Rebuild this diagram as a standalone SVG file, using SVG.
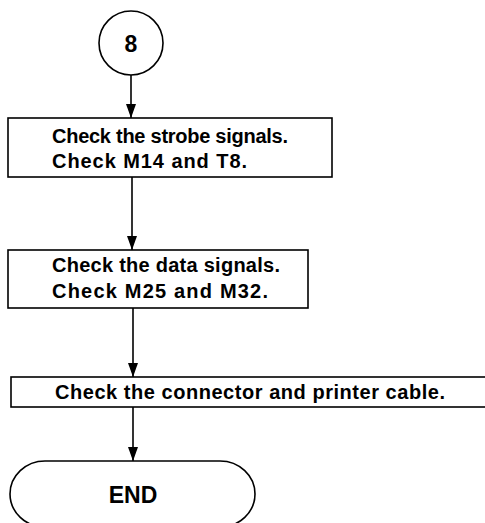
<svg xmlns="http://www.w3.org/2000/svg" width="485" height="523" viewBox="0 0 485 523">
<style>
.s{fill:none;stroke:#000;stroke-width:1.6}
.t{font-family:"Liberation Sans",Arial,sans-serif;font-weight:bold;font-size:20px;fill:#000}
.big{font-size:23px}
.c{stroke:#000;stroke-width:1.6;fill:none}
</style>
<defs>
<marker id="ah" markerWidth="14" markerHeight="10" refX="14" refY="5" orient="auto" markerUnits="userSpaceOnUse" viewBox="0 0 14 10">
<path d="M0,0 L14,5 L0,10 Z" fill="#000"/>
</marker>
</defs>
<rect width="485" height="523" fill="#fff"/>
<g id="connectors">
<line class="c" x1="131" y1="75" x2="131" y2="118" marker-end="url(#ah)"/>
<line class="c" x1="132" y1="177" x2="132" y2="250" marker-end="url(#ah)"/>
<line class="c" x1="133" y1="308" x2="133" y2="377" marker-end="url(#ah)"/>
<line class="c" x1="133" y1="407" x2="133" y2="461" marker-end="url(#ah)"/>
</g>
<g id="start8">
<circle class="s" cx="131" cy="43" r="32"/>
<text class="t big" x="131" y="52" text-anchor="middle">8</text>
</g>
<g id="box1">
<rect class="s" x="8" y="118" width="324" height="59"/>
<text class="t" x="52" y="143" textLength="236" lengthAdjust="spacing">Check the strobe signals.</text>
<text class="t" x="52" y="168" textLength="195" lengthAdjust="spacing">Check M14 and T8.</text>
</g>
<g id="box2">
<rect class="s" x="8" y="250" width="300" height="58"/>
<text class="t" x="52" y="272" textLength="228" lengthAdjust="spacing">Check the data signals.</text>
<text class="t" x="52" y="298" textLength="216" lengthAdjust="spacing">Check M25 and M32.</text>
</g>
<g id="box3">
<rect class="s" x="11" y="377" width="480" height="30"/>
<text class="t" x="55" y="399" textLength="390" lengthAdjust="spacing">Check the connector and printer cable.</text>
</g>
<g id="end">
<path class="s" d="M45,461 H220 A35,33 0 0 1 220,527 H45 A35,33 0 0 1 45,461 Z"/>
<text class="t big" x="133" y="503" text-anchor="middle">END</text>
</g>
</svg>
